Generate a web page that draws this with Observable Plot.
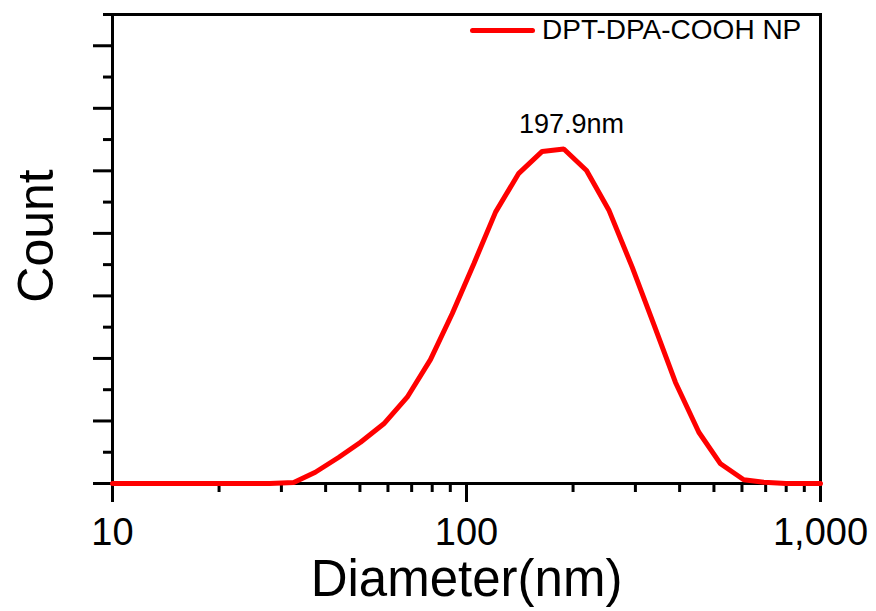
<!DOCTYPE html>
<html>
<head>
<meta charset="utf-8">
<script src="https://cdn.jsdelivr.net/npm/d3@7"></script>
<script src="https://cdn.jsdelivr.net/npm/@observablehq/plot@0.6"></script>
<style>
  html, body { margin: 0; padding: 0; background: #fff; }
  #wrap { position: relative; width: 876px; height: 611px; font-family: "Liberation Sans", Arial, sans-serif; }
  #legend { position: absolute; left: 470px; top: 14px; display: flex; align-items: center; font-size: 28px; color: #000; white-space: nowrap; }
  #legend .sw { display: inline-block; width: 65px; height: 5px; background: #ff0000; border-radius: 3px; margin-right: 7px; }
</style>
</head>
<body>
<div id="wrap"><div id="legend"><span class="sw"></span><span>DPT-DPA-COOH NP</span></div></div>
<script>
const seriesName = "DPT-DPA-COOH NP";
const diameters = [10, 27.8, 32.5, 37.4, 43.6, 50.2, 58.4, 68.0, 79.1, 91.1, 104.9, 120.8, 140.5, 163.6, 188.3, 218.3, 252.3, 293.8, 338.6, 389.1, 453.2, 521.9, 607.0, 691.7, 800, 1000];
const counts    = [0, 0, 0.03, 0.36, 0.84, 1.32, 1.91, 2.76, 3.96, 5.43, 7.03, 8.68, 9.92, 10.62, 10.70, 10.01, 8.75, 6.92, 5.07, 3.24, 1.64, 0.63, 0.12, 0.04, 0, 0];
const peakDiameter = 197.9;
const peakCount = 10.70;
const peakLabel = "197.9nm";
const xMajorTicks = [10, 100, 1000];
const xMinorTicks = [20, 30, 40, 50, 60, 70, 80, 90, 200, 300, 400, 500, 600, 700, 800, 900];
const yMajorTicks = [0, 2, 4, 6, 8, 10, 12, 14];
const yMinorTicks = [1, 3, 5, 7, 9, 11, 13, 15];

const data = diameters.map((d, i) => ({d, c: counts[i]}));
const font = "Liberation Sans, Arial, sans-serif";

const chart = Plot.plot({
  width: 876,
  height: 611,
  marginLeft: 112,
  marginRight: 56,
  marginTop: 14,
  marginBottom: 128,
  style: {fontFamily: font, color: "#000", background: "#fff", overflow: "visible"},
  x: {type: "log", domain: [10, 1000]},
  y: {domain: [0, 15]},
  marks: [
    Plot.axisX({ticks: xMinorTicks, tickSize: 9, strokeWidth: 3, tickFormat: () => "", label: null}),
    Plot.axisX({ticks: xMajorTicks, tickSize: 19, tickPadding: 16, strokeWidth: 3, fontSize: 38, tickFormat: d3.format(","), label: null}),
    Plot.axisY({ticks: yMinorTicks, tickSize: 9, strokeWidth: 3, tickFormat: () => "", label: null}),
    Plot.axisY({ticks: yMajorTicks, tickSize: 19, strokeWidth: 3, tickFormat: () => "", label: null}),
    Plot.frame({stroke: "#000", strokeWidth: 3}),
    Plot.line(data, {x: "d", y: "c", stroke: "#ff0000", strokeWidth: 5, strokeLinejoin: "miter"}),
    Plot.text([peakLabel], {x: () => peakDiameter, y: () => peakCount, text: d => d, fontSize: 27, lineAnchor: "bottom", dy: -16, fill: "#000"}),
    Plot.text(["Diameter(nm)"], {frameAnchor: "bottom", textAnchor: "middle", lineAnchor: "bottom", dy: 112, fontSize: 51, fill: "#000"}),
    Plot.text(["Count"], {frameAnchor: "left", textAnchor: "middle", rotate: -90, lineAnchor: "bottom", dx: -60, dy: -13, fontSize: 50, fill: "#000"})
  ]
});
document.getElementById("wrap").prepend(chart);
</script>
</body>
</html>
